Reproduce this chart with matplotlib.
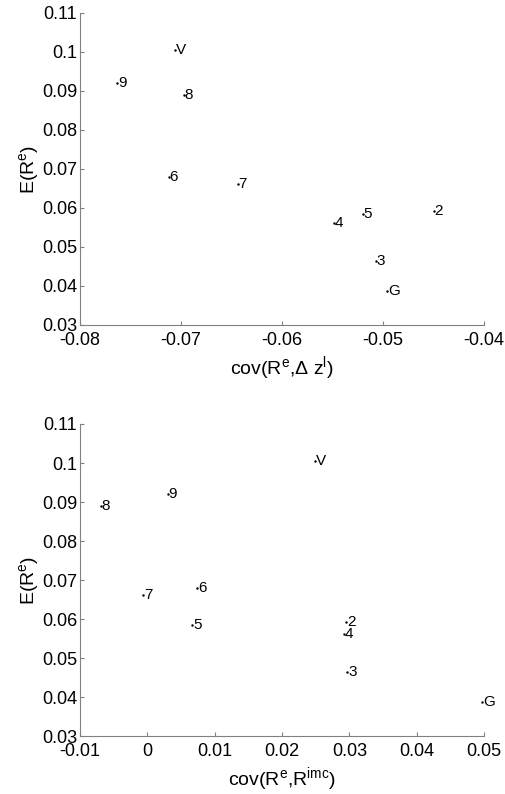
import matplotlib
matplotlib.use('Agg')
import matplotlib.pyplot as plt

plt.rcParams['font.family'] = ['Liberation Sans', 'DejaVu Sans']
plt.rcParams['mathtext.fontset'] = 'custom'
plt.rcParams['mathtext.rm'] = 'Liberation Sans'
plt.rcParams['mathtext.it'] = 'Liberation Sans'

# portfolio labels
etiquetas = ['V', '9', '8', '6', '7', '4', '5', '2', '3', 'G']

# expected excess returns (same in both panels)
retorno_medio = [0.1005, 0.0920, 0.0889, 0.0680, 0.0661, 0.0562, 0.0585, 0.0593, 0.0465, 0.0387]

# covariance with Δz^l (top panel)
cov_dz = [-0.0706, -0.0763, -0.0697, -0.0712, -0.0644, -0.0549, -0.0520, -0.0450, -0.0507, -0.0496]

# covariance with R^imc (bottom panel)
cov_imc = [0.0249, 0.0030, -0.0069, 0.0074, -0.0006, 0.0292, 0.0067, 0.0295, 0.0297, 0.0497]

xticks_topo = [-0.08, -0.07, -0.06, -0.05, -0.04]
xticks_baixo = [-0.01, 0, 0.01, 0.02, 0.03, 0.04, 0.05]
yticks = [0.03, 0.04, 0.05, 0.06, 0.07, 0.08, 0.09, 0.1, 0.11]


def fmt(v):
    return '0' if v == 0 else ('%g' % v)


def painel(ax, xs, ys, xlim, xticks, xlabel):
    ax.plot(xs, ys, '.', color='black', markersize=1.5)
    dx = (xlim[1] - xlim[0]) * 0.002
    for x, y, t in zip(xs, ys, etiquetas):
        ax.text(x + dx, y, t, fontsize=11, ha='left', va='center')
    ax.set_xlim(xlim)
    ax.set_ylim(0.03, 0.11)
    ax.set_xticks(xticks)
    ax.set_xticklabels([fmt(v) for v in xticks])
    ax.set_yticks(yticks)
    ax.set_yticklabels([fmt(v) for v in yticks])
    for s in ['top', 'right']:
        ax.spines[s].set_visible(False)
    for s in ['left', 'bottom']:
        ax.spines[s].set_color('#808080')
        ax.spines[s].set_linewidth(0.8)
    ax.tick_params(direction='in', length=3, color='#808080', labelsize=13)
    ax.tick_params(axis='x', pad=5)
    ax.tick_params(axis='y', pad=2)
    ax.set_xlabel(xlabel, fontsize=14, labelpad=4)
    ax.set_ylabel(r'E(R$^{\rm e}$)', fontsize=14, labelpad=1)


fig = plt.figure(figsize=(5.06, 7.94), dpi=100)
ax1 = fig.add_axes([0.158, 0.5907, 0.799, 0.393])
ax2 = fig.add_axes([0.158, 0.073, 0.799, 0.393])

painel(ax1, cov_dz, retorno_medio, (-0.08, -0.04), xticks_topo,
       r'cov(R$^{\rm e}$,$\Delta$ z$^{\rm l}$)')
painel(ax2, cov_imc, retorno_medio, (-0.01, 0.05), xticks_baixo,
       r'cov(R$^{\rm e}$,R$^{\rm imc}$)')

fig.savefig('out.png', dpi=100)
